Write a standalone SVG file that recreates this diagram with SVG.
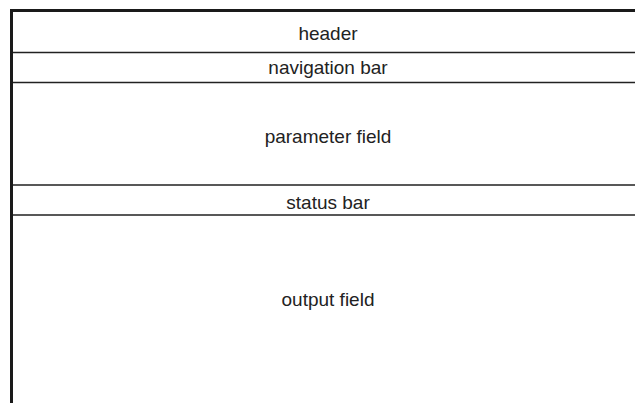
<svg xmlns="http://www.w3.org/2000/svg" width="635" height="403" viewBox="0 0 635 403">
<style>
.lbl{font-family:"Liberation Sans",Arial,sans-serif;font-size:19px;fill:#222;text-anchor:middle}
.thick{stroke:#1a1a1a;stroke-width:3;fill:none}
.thin{stroke:#222;stroke-width:1.5;fill:none}
</style>
<rect width="635" height="403" fill="#fff"/>
<g id="frame">
<path class="thick" d="M11.5 403 V10.5 H635"/>
</g>
<g id="connectors">
<path class="thin" d="M13 52.5 H635 M13 82.5 H635 M13 185 H635 M13 215 H635"/>
</g>
<g id="header"><text class="lbl" x="328" y="39.5">header</text></g>
<g id="navigation-bar"><text class="lbl" x="328" y="74">navigation bar</text></g>
<g id="parameter-field"><text class="lbl" x="328" y="143">parameter field</text></g>
<g id="status-bar"><text class="lbl" x="328" y="208.5">status bar</text></g>
<g id="output-field"><text class="lbl" x="328" y="306">output field</text></g>
</svg>
